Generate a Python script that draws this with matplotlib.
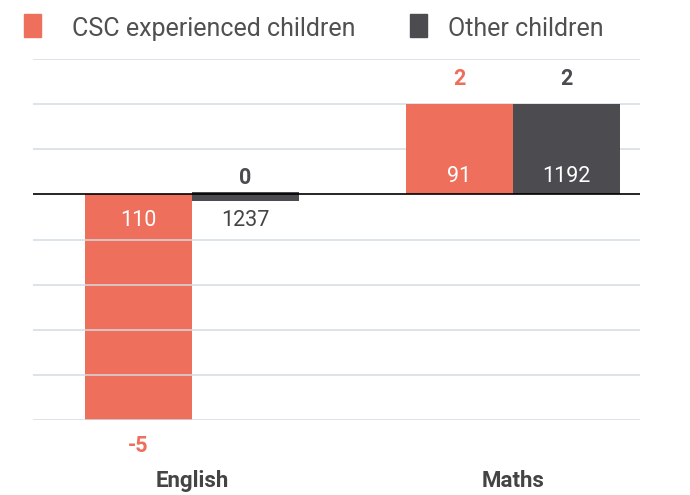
import matplotlib
matplotlib.use('Agg')
import matplotlib.pyplot as plt
from matplotlib.patches import Rectangle
import numpy as np

subjects = ['English', 'Maths']
series = ['CSC experienced children', 'Other children']
values_csc = [-5, 2]
values_other = [-0.2, 2]   # shown as 0
labels_csc = ['-5', '2']
labels_other = ['0', '2']
counts_csc = ['110', '91']
counts_other = ['1237', '1192']

CORAL = '#EE6F5C'
DARK = '#4C4B50'
GRID = '#D3DCE3'
TEXT = '#444444'

NARROW = ['Roboto', 'DejaVu Sans']

fig = plt.figure(figsize=(6.9, 4.95), dpi=100)
ax = fig.add_axes([0.0478, 0.1515, 0.8797, 0.7293])

x = np.arange(len(subjects))
w = 0.333
ax.bar(x - w / 2, values_csc, w, color=CORAL, zorder=2)
# near-zero bars get a thin visible stub around the axis
bottoms_other = [0.05 if abs(v) < 0.5 else 0 for v in values_other]
ax.bar(x + w / 2, values_other, w, bottom=bottoms_other, color=DARK, zorder=2)

ax.set_ylim(-5, 3)
ax.set_xlim(-0.4953, 1.3956)
for y in range(-5, 4):
    if y != 0:
        ax.axhline(y, color=GRID, lw=1.2, zorder=3 if y < 0 else 1, alpha=0.9)
ax.axhline(0, color='black', lw=1.2, zorder=4)

for s in ax.spines.values():
    s.set_visible(False)
ax.set_xticks([])
ax.set_yticks([])

# value labels
for i in range(len(subjects)):
    for vals, labs, cnts, col, off in [(values_csc, labels_csc, counts_csc, CORAL, -w / 2),
                                       (values_other, labels_other, counts_other, DARK, w / 2)]:
        v = vals[i]
        xi = x[i] + off
        if v > 0:
            ax.annotate(labs[i], (xi, v), xytext=(0, 10), textcoords='offset points',
                        ha='center', va='bottom', fontsize=15.5, fontweight='bold',
                        color=col, family=NARROW)
            ax.annotate(cnts[i], (xi, 0), xytext=(0, 13), textcoords='offset points',
                        ha='center', va='center', fontsize=15.5, color='white',
                        family=NARROW, zorder=5)
        else:
            if v <= -1:
                ax.annotate(labs[i], (xi, v), xytext=(0, -19), textcoords='offset points',
                            ha='center', va='center', fontsize=15.5, fontweight='bold',
                            color=col, family=NARROW)
                ax.annotate(cnts[i], (xi, 0), xytext=(0, -19), textcoords='offset points',
                            ha='center', va='center', fontsize=15.5, color='white',
                            family=NARROW, zorder=5)
            else:
                ax.annotate(labs[i], (xi, 0), xytext=(0, 12), textcoords='offset points',
                            ha='center', va='center', fontsize=15.5, fontweight='bold',
                            color=col, family=NARROW)
                ax.annotate(cnts[i], (xi, 0), xytext=(0, -19), textcoords='offset points',
                            ha='center', va='center', fontsize=15.5, color=TEXT,
                            family=NARROW, zorder=5)

for i, s in enumerate(subjects):
    ax.annotate(s, (x[i], -5), xytext=(0, -44), textcoords='offset points',
                ha='center', va='center', fontsize=16, fontweight='bold',
                color=TEXT, family=NARROW)

# legend
fig.patches.append(Rectangle((24 / 690, 1 - 37 / 495), 17 / 690, 23 / 495,
                             transform=fig.transFigure, color=CORAL))
fig.text(72 / 690, 1 - 29 / 495, series[0], fontsize=18, color='#505050',
         va='center', family=['Roboto', 'DejaVu Sans'])
fig.patches.append(Rectangle((410 / 690, 1 - 37 / 495), 17 / 690, 23 / 495,
                             transform=fig.transFigure, color=DARK))
fig.text(448 / 690, 1 - 29 / 495, series[1], fontsize=18, color='#505050',
         va='center', family=['Roboto', 'DejaVu Sans'])

fig.savefig('out.png', dpi=100)
